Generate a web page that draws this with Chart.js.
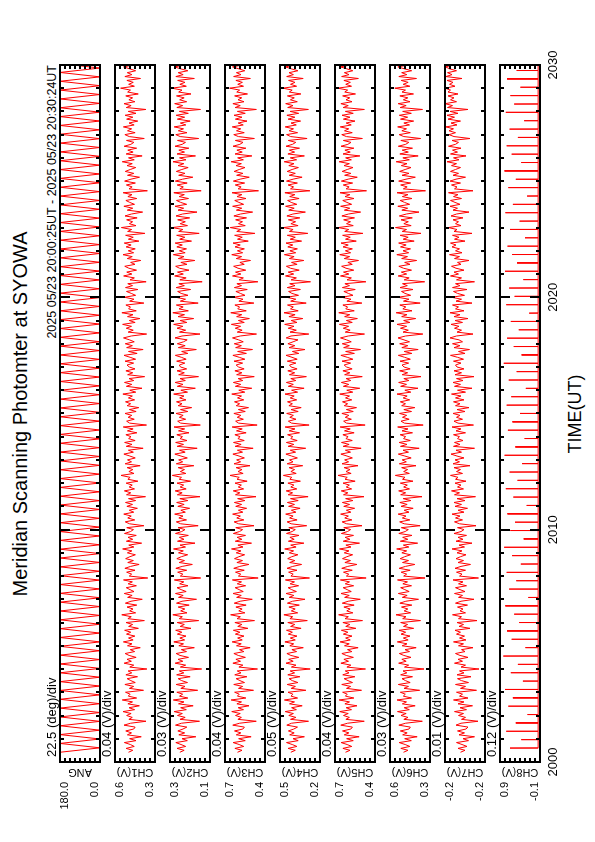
<!DOCTYPE html>
<html><head><meta charset="utf-8">
<script src="https://cdn.jsdelivr.net/npm/chart.js@4.4.1/dist/chart.umd.min.js"></script>
<style>
html,body{margin:0;padding:0;background:#fff;}
body{width:595px;height:842px;overflow:hidden;position:relative;}
#land{position:absolute;left:0;top:0;width:842px;height:595px;transform-origin:0 0;transform:translateY(842px) rotate(-90deg);font-family:"Liberation Sans",Arial,sans-serif;color:#000;}
#land canvas{position:absolute;left:0;}
.txt{position:absolute;white-space:nowrap;line-height:1;}
</style></head><body>
<div id="land">
<div class="txt" style="left:128px;width:600px;text-align:center;top:10px;font-size:20px;">Meridian Scanning Photomter at SYOWA</div>
<div class="txt" style="right:65px;top:46px;font-size:12.5px;">2025 05/23 20:00:25UT - 2025 05/23 20:30:24UT</div>
<div class="txt" style="left:128px;width:600px;text-align:center;top:566px;font-size:18px;">TIME(UT)</div>
</div>
<script>
// ---------- data ----------
const channelNames = ['ANG','CH1(V)','CH2(V)','CH3(V)','CH4(V)','CH5(V)','CH6(V)','CH7(V)','CH8(V)'];
const divLabels = ['22.5 (deg)/div','0.04 (V)/div','0.03 (V)/div','0.04 (V)/div','0.05 (V)/div','0.04 (V)/div','0.03 (V)/div','0.01 (V)/div','0.12 (V)/div'];
const divSize = [22.5,0.04,0.03,0.04,0.05,0.04,0.03,0.01,0.12];
const axisMin = [0,0.3,0.1,0.4,0.2,0.4,0.3,-0.2,-0.1];
const axisMax = [180,0.62,0.34,0.72,0.6,0.72,0.54,-0.12,0.86];
const axisTopLabels = ['180.0','0.6','0.3','0.7','0.5','0.7','0.6','-0.2','0.9'];
const axisBottomLabels = ['0.0','0.3','0.1','0.4','0.2','0.4','0.3','-0.2','-0.1'];
const xTickValues = [0,10,20,30];
const xTickLabels = ['2000','2010','2020','2030'];
const minuteTicks = [1,2,3,4,5,6,7,8,9,10,11,12,13,14,15,16,17,18,19,20,21,22,23,24,25,26,27,28,29];
const majorMinutes = [10,20];

// sampling (minutes after 20:00)
const dataStartMin = 0.42, angHalfSweepMin = 0.19, ch8SpikeSpacingMin = 0.36, sampleStepSec = 5;

// scan angle turning points (deg)
const angTurns = [180,0,180,0,180,0,180,0,180,0,180,0,180,0,180,0,180,0,180,0,180,0,180,0,180,0,180,0,180,0,180,0,180,0,180,0,180,0,180,0,
180,0,180,0,180,0,180,0,180,0,180,0,180,0,180,0,180,0,180,0,180,0,180,0,180,0,180,0,180,0,180,0,180,0,180,0,180,0,180,0,
180,0,180,0,180,0,180,0,180,0,180,0,180,0,180,0,180,0,180,0,180,0,180,0,180,0,180,0,180,0,180,0,180,0,180,0,180,0,180,0,
180,0,180,0,180,0,180,0,180,0,180,0,180,0,180,0,180,0,180,0,180,0,180,0,180,0,180,0,180,0,180,0,180,0,180,0,180,0,180,0];

// channel signals, millivolts, one value every 5 s
const ch1mV = [512,478,531,466,497,545,452,503,410,521,488,534,470,459,548,495,372,509,482,527,
491,556,463,508,425,517,480,562,447,514,499,536,392,505,471,541,458,493,523,440,
533,486,515,365,502,470,547,489,524,451,507,539,463,498,418,520,484,553,475,512,
461,528,494,543,433,511,479,532,385,517,490,566,455,503,476,524,446,537,492,402,
519,483,546,468,500,530,449,515,481,552,358,506,487,527,460,541,495,427,518,473,
535,501,457,521,485,559,469,510,407,529,478,516,450,544,496,472,526,389,504,538,
462,518,490,550,470,506,441,525,480,536,455,512,376,528,494,545,464,507,482,531,
437,517,499,572,468,509,477,523,419,539,488,520,458,501,549,473,513,395,530,484,
543,459,511,492,533,445,521,475,554,368,503,527,466,515,486,540,451,505,430,523,
495,536,463,513,481,557,454,502,404,529,486,544,470,508,383,519,478,533,460,506,
524,471,540,455,499,548,443,512,395,527,481,538,466,504,552,490,367,515,474,530,
488,559,459,506,421,520,476,565,450,511,496,533,389,503,468,544,455,490,528,437,
536,480,518,371,500,465,551,485,526,448,509,542,460,495,414,522,482,556,471,514,
458,531,491,546,429,513,474,535,381,519,487,569,452,505,479,527,443,540,489,399,
522,478,549,464,502,533,446,517,484,555,361,508,483,529,457,543,492,424,520,470,
538,498,454,524,482,562,466,512,403,531,475,518,447,547,493,469,528,386,506,541,
459,520,487,553,467,508,438,527,477,539,452,514,373,530,491,548,461,509,479,534,
434,519,496,575,465,511,474,525,416,541,485,522,455,503,551,470,515,392,532,481];

const ch2mV = [281,255,298,246,274,305,236,268,185,287,252,293,262,239,307,271,163,280,249,295,
266,315,242,276,201,289,256,320,233,283,264,299,174,275,250,303,235,270,291,219,
300,257,284,150,278,246,309,263,292,229,280,303,241,272,194,287,259,317,252,281,
244,296,269,306,214,279,254,297,168,285,266,323,238,276,251,291,225,301,268,181,
289,261,307,243,273,298,232,282,257,314,156,278,263,294,240,305,267,206,285,253,
299,272,234,289,260,319,247,280,190,295,256,284,230,307,270,250,292,171,276,302,
241,287,262,312,248,275,222,293,255,300,233,281,160,296,267,309,243,279,258,298,
217,285,271,326,245,278,253,291,197,302,264,288,236,274,311,249,283,177,297,259,
306,238,280,265,299,226,289,252,316,158,276,294,246,284,261,304,233,277,210,291,
268,301,244,282,256,318,235,275,188,296,262,309,248,280,169,288,254,298,240,277,
284,251,300,243,272,308,233,270,182,290,249,296,259,237,310,268,160,283,246,298,
263,318,239,279,198,292,253,323,230,286,261,302,171,278,247,306,232,273,294,216,
303,254,287,147,281,243,312,260,295,226,283,306,238,275,191,290,256,320,249,284,
241,299,266,309,211,282,251,300,165,288,263,326,235,279,248,294,222,304,265,178,
292,258,310,240,276,301,229,285,254,317,153,281,260,297,237,308,264,203,288,250,
302,269,231,292,257,322,244,283,187,298,253,287,227,310,267,247,295,168,279,305,
238,290,259,315,245,278,219,296,252,303,230,284,157,299,264,312,240,282,255,301,
214,288,268,329,242,281,250,294,194,305,261,291,233,277,314,246,286,174,300,256];

const ch3mV = [620,584,641,570,607,655,558,611,511,630,593,644,577,565,658,603,470,617,589,636,
598,666,572,615,528,625,588,671,553,621,606,643,492,612,579,650,564,600,631,545,
642,592,622,460,609,577,657,596,633,557,614,649,569,604,519,628,590,663,582,619,
568,637,601,653,537,618,585,641,484,624,597,675,561,610,583,633,551,646,599,502,
627,590,656,574,607,639,555,622,588,661,455,613,594,636,566,650,602,529,625,580,
644,609,563,630,592,668,576,617,508,638,585,623,556,653,604,579,634,488,611,647,
569,626,597,659,577,613,547,634,587,645,561,619,472,636,601,654,571,614,589,640,
543,624,606,680,575,616,584,631,520,648,595,627,565,608,657,580,621,495,639,591,
652,566,617,599,641,551,628,582,663,463,611,635,573,622,593,649,558,613,532,630,
603,644,570,620,588,666,562,610,506,637,594,653,578,615,486,627,585,641,567,612,
631,579,648,561,606,657,549,619,500,635,589,646,574,611,660,598,468,622,583,638,
595,669,566,613,525,627,586,674,550,618,603,641,489,609,576,652,560,597,633,542,
645,588,625,457,608,573,660,593,636,554,616,651,566,601,516,630,587,666,579,621,
565,640,598,656,534,620,582,643,481,626,594,678,558,612,580,635,548,649,596,499,
629,586,659,571,609,642,552,624,585,664,452,615,591,638,563,653,599,526,627,577,
647,606,560,632,589,671,573,619,505,640,582,625,553,656,601,576,637,485,613,650,
566,628,594,662,574,615,544,637,584,648,558,621,469,639,598,657,568,616,586,643,
540,626,603,683,572,618,581,633,517,651,592,629,562,610,660,577,623,492,642,588];

const ch4mV = [492,447,519,431,478,535,418,470,356,503,458,516,462,425,532,485,315,495,441,512,
466,548,436,484,378,505,455,556,424,490,471,520,341,488,446,528,421,477,509,401,
522,454,498,298,486,440,540,468,513,412,491,531,434,481,367,502,463,551,447,497,
430,517,476,535,389,494,452,522,327,501,473,561,423,487,448,511,407,526,475,350,
508,462,539,436,484,519,414,499,455,546,305,491,468,514,430,530,473,384,503,451,
523,483,421,507,464,553,439,493,361,516,458,501,410,535,479,447,512,333,489,529,
429,504,469,543,441,486,399,514,455,526,418,495,319,518,474,538,432,492,461,521,
396,502,482,566,438,491,454,509,373,528,470,505,426,484,541,444,497,343,519,462,
536,428,493,472,524,405,508,450,549,309,485,516,440,502,466,533,418,490,388,511,
476,525,433,498,458,550,424,484,359,517,467,536,442,492,336,506,453,522,429,489,
505,441,527,428,480,540,412,476,350,510,452,521,469,420,538,490,312,500,437,518,
460,553,430,488,372,511,449,560,418,495,467,525,338,493,442,533,415,481,514,396,
527,450,503,295,489,436,545,463,518,408,495,536,429,485,362,507,459,556,443,501,
426,522,472,540,384,498,447,527,322,506,469,565,419,491,444,516,402,531,471,346,
513,458,544,432,488,524,409,503,451,551,301,495,464,519,426,535,469,379,508,447,
528,479,416,512,460,558,434,497,356,521,454,506,405,540,475,442,517,329,493,534,
424,509,465,548,437,490,394,519,451,531,413,499,316,523,470,543,427,496,457,526,
391,507,478,570,434,495,450,514,368,533,466,510,421,488,546,439,502,339,524,458];

const ch5mV = [636,600,657,586,623,671,574,627,527,646,609,660,593,581,674,619,486,633,605,652,
614,682,588,631,544,641,604,687,569,637,622,659,508,628,595,666,580,616,647,561,
658,608,638,476,625,593,673,612,649,573,630,665,585,620,535,644,606,679,598,635,
584,653,617,669,553,634,601,657,500,640,613,691,577,626,599,649,567,662,615,518,
643,606,672,590,623,655,571,638,604,677,471,629,610,652,582,666,618,545,641,596,
660,625,579,646,608,684,592,633,524,654,601,639,572,669,620,595,650,504,627,663,
585,642,613,675,593,629,563,650,603,661,577,635,488,652,617,670,587,630,605,656,
559,640,622,696,591,632,600,647,536,664,611,643,581,624,673,596,637,511,655,607,
668,582,633,615,657,567,644,598,679,479,627,651,589,638,609,665,574,629,548,646,
619,660,586,636,604,682,578,626,522,653,610,669,594,631,502,643,601,657,583,628,
647,595,664,577,622,673,565,635,516,651,605,662,590,627,676,614,484,638,599,654,
611,685,582,629,541,643,602,690,566,634,619,657,505,625,592,668,576,613,649,558,
661,604,641,473,624,589,676,609,652,570,632,667,582,617,532,646,603,682,595,637,
581,656,614,672,550,636,598,659,497,642,610,694,574,628,596,651,564,665,612,515,
645,602,675,587,625,658,568,640,601,680,468,631,607,654,579,669,615,542,643,593,
663,622,576,648,605,687,589,635,521,656,598,641,569,672,617,592,653,501,629,666,
582,644,610,678,590,631,560,653,600,664,574,637,485,655,614,673,584,632,602,659,
556,642,619,699,588,634,597,649,533,667,608,645,578,626,676,593,639,508,658,604];

const ch6mV = [459,432,475,421,449,485,412,452,377,464,437,478,426,418,487,446,346,457,432,474,
443,495,424,455,389,466,441,498,411,460,448,478,362,456,429,490,419,447,468,405,
476,439,462,336,453,428,488,443,469,414,457,484,423,450,383,467,438,496,431,460,
420,474,446,485,398,459,434,476,357,464,444,504,416,455,433,471,409,481,445,369,
466,437,490,425,451,476,411,463,435,495,330,458,440,473,419,485,447,391,465,429,
479,452,417,469,440,500,427,460,374,478,433,464,408,487,449,430,472,359,455,482,
421,466,444,491,426,455,401,474,437,481,415,461,348,476,446,488,423,458,436,478,
402,465,450,508,424,458,434,470,384,484,442,467,413,451,490,429,462,365,477,438,
485,418,459,446,479,405,468,432,494,341,454,474,425,465,440,483,411,457,391,470,
447,478,422,461,437,498,415,451,372,476,441,488,427,457,354,467,434,482,419,456,
468,428,480,418,452,490,409,455,371,469,433,482,423,456,492,446,343,462,430,477,
440,498,421,458,386,470,438,503,408,463,445,481,359,459,426,493,416,450,471,402,
480,436,465,332,455,425,491,440,472,411,459,487,420,452,380,470,435,499,428,462,
417,477,443,488,395,461,431,479,354,467,441,507,413,457,430,474,406,484,442,366,
469,434,493,422,453,479,408,466,432,498,327,460,437,476,416,488,444,388,468,426,
482,449,414,472,438,503,424,463,371,481,430,467,405,490,446,427,475,356,457,485,
418,469,441,494,423,457,398,477,434,484,412,464,345,479,443,491,420,460,433,481,
399,468,447,511,421,461,431,473,381,487,439,470,410,454,493,426,465,362,480,435];

const ch7mV = [-151,-160,-146,-164,-154,-143,-167,-156,-179,-148,-159,-145,-162,-166,-142,-152,-186,-153,-161,-147,
-157,-139,-163,-150,-175,-146,-158,-137,-166,-149,-155,-143,-183,-151,-161,-141,-167,-153,-145,-172,
-144,-158,-149,-188,-152,-161,-139,-155,-146,-166,-150,-141,-160,-153,-176,-147,-157,-137,-162,-149,
-159,-143,-151,-140,-170,-148,-157,-144,-184,-147,-153,-135,-161,-150,-156,-145,-165,-141,-152,-178,
-147,-155,-139,-160,-150,-141,-163,-147,-156,-136,-187,-149,-154,-143,-161,-140,-152,-171,-146,-157,
-142,-151,-162,-144,-154,-134,-159,-148,-174,-142,-156,-146,-163,-138,-152,-158,-145,-182,-149,-139,
-155,-141,-150,-134,-158,-146,-165,-140,-153,-138,-160,-144,-181,-139,-149,-133,-157,-145,-152,-140,
-162,-141,-146,-131,-155,-143,-151,-138,-170,-136,-149,-140,-158,-144,-132,-153,-142,-179,-137,-150,
-139,-156,-145,-149,-137,-161,-142,-152,-134,-177,-146,-138,-155,-143,-150,-136,-160,-144,-168,-141,
-150,-137,-158,-141,-152,-133,-161,-145,-174,-139,-151,-136,-156,-143,-178,-140,-153,-138,-158,-144,
-141,-152,-137,-157,-145,-131,-160,-147,-169,-138,-150,-135,-155,-148,-130,-143,-176,-144,-153,-139,
-148,-132,-155,-140,-166,-138,-150,-130,-158,-141,-147,-135,-174,-142,-153,-133,-159,-145,-137,-164,
-135,-150,-141,-179,-143,-153,-131,-147,-138,-158,-142,-133,-152,-145,-168,-139,-149,-129,-154,-141,
-149,-134,-142,-131,-160,-139,-148,-135,-174,-138,-144,-127,-152,-141,-147,-136,-156,-132,-143,-168,
-136,-145,-130,-150,-140,-131,-153,-137,-146,-127,-176,-139,-144,-133,-151,-130,-142,-161,-136,-147,
-131,-141,-151,-133,-143,-124,-148,-137,-162,-131,-145,-135,-152,-127,-141,-147,-134,-170,-138,-128,
-141,-128,-137,-122,-144,-132,-151,-126,-139,-124,-146,-130,-166,-125,-135,-120,-143,-131,-138,-126,
-146,-126,-131,-120,-140,-129,-136,-124,-154,-122,-134,-125,-143,-129,-121,-138,-127,-163,-123,-135];

// CH8: baseline (V) and spike peaks (V), one spike per scan
const ch8Baseline = -0.055;
const ch8Peaks = [0.62,0.35,0.71,0.48,0.20,0.66,0.55,0.74,0.31,0.60,0.43,0.78,0.25,0.58,0.69,0.40,0.52,0.73,0.18,0.64,
0.47,0.70,0.36,0.57,0.76,0.29,0.61,0.50,0.68,0.22,0.54,0.72,0.44,0.63,0.33,0.75,0.49,0.27,0.67,0.56,
0.38,0.70,0.59,0.24,0.65,0.46,0.77,0.34,0.53,0.69,0.41,0.60,0.16,0.71,0.51,0.64,0.30,0.74,0.45,0.57,
0.68,0.26,0.62,0.39,0.73,0.55,0.21,0.66,0.48,0.75,0.35,0.58,0.70,0.43,0.63,0.28,0.72,0.52,0.61,0.37,
0.69,0.46,0.59];

// ---------- build ----------
const noiseSeriesmV = [ch1mV,ch2mV,ch3mV,ch4mV,ch5mV,ch6mV,ch7mV];
function sampled(vals){ return vals.map((v,i)=>({x: dataStartMin + i*sampleStepSec/60, y: v/1000})); }
const angPts = angTurns.map((v,k)=>({x: dataStartMin + k*angHalfSweepMin, y: v}));
const ch8Pts = [];
ch8Peaks.forEach((p,k)=>{
  const t = dataStartMin + k*ch8SpikeSpacingMin + ch8SpikeSpacingMin/2;
  ch8Pts.push({x:t-0.006,y:ch8Baseline},{x:t,y:p},{x:t+0.006,y:ch8Baseline});
});
const seriesPts = [angPts, ...noiseSeriesmV.map(sampled), ch8Pts];

const FONT = '"Liberation Sans", Arial, sans-serif';
const panelDecor = {
  id:'panelDecor',
  afterDatasetsDraw(chart, args, opts){
    const i = opts.index;
    const {ctx, chartArea:a} = chart;
    const x = chart.scales.x, y = chart.scales.y;
    ctx.save();
    ctx.strokeStyle = '#000'; ctx.lineWidth = 2; ctx.lineCap='butt';
    const seg=(x1,y1,x2,y2)=>{ctx.beginPath();ctx.moveTo(x1,y1);ctx.lineTo(x2,y2);ctx.stroke();};
    minuteTicks.forEach(m=>{
      const px = Math.round(x.getPixelForValue(m));
      const len = majorMinutes.includes(m) ? 10 : 4;
      seg(px,a.top,px,a.top+len); seg(px,a.bottom,px,a.bottom-len);
    });
    for(let k=1;k<8;k++){
      const py = Math.round(y.getPixelForValue(axisMin[i]+k*divSize[i]));
      seg(a.left,py,a.left+4,py); seg(a.right,py,a.right-4,py);
    }
    ctx.strokeRect(a.left,a.top,a.right-a.left,a.bottom-a.top);
    ctx.fillStyle='#000';
    ctx.font = '13px '+FONT; ctx.textAlign='left'; ctx.textBaseline='middle';
    ctx.fillText(divLabels[i], a.left+5, a.top-8);
    ctx.font = '11px '+FONT;
    ctx.textAlign='right';
    ctx.fillText(axisTopLabels[i], a.left-20, y.getPixelForValue(axisMax[i])+5);
    ctx.fillText(axisBottomLabels[i], a.left-20, y.getPixelForValue(axisMin[i])-5);
    ctx.save();
    ctx.translate(a.left-10,(a.top+a.bottom)/2); ctx.rotate(-Math.PI/2);
    ctx.textAlign='center'; ctx.fillText(channelNames[i],0,0);
    ctx.restore();
    if(opts.xlabels){
      ctx.font='13px '+FONT; ctx.textAlign='center'; ctx.textBaseline='middle';
      xTickValues.forEach((v,j)=>ctx.fillText(xTickLabels[j], x.getPixelForValue(v), a.bottom+13));
    }
    ctx.restore();
  }
};

const land = document.getElementById('land');
for(let i=0;i<9;i++){
  const top = 60 + 55*i;
  const last = i===8;
  const padTop=18, padBot = last?44:16;
  const cv = document.createElement('canvas');
  cv.width=842; cv.height=padTop+40+padBot;
  cv.style.top=(top-padTop)+'px'; cv.style.width='842px'; cv.style.height=cv.height+'px';
  land.appendChild(cv);
  new Chart(cv,{
    type:'line',
    data:{datasets:[{data:seriesPts[i],borderColor:'#ff0000',borderWidth:1,pointRadius:0,tension:0,fill:false}]},
    options:{
      responsive:false, animation:false, devicePixelRatio:1,
      layout:{padding:{left:80,right:65,top:padTop,bottom:padBot}},
      scales:{
        x:{type:'linear',min:0,max:30,display:false},
        y:{type:'linear',min:axisMin[i],max:axisMax[i],display:false}
      },
      plugins:{legend:{display:false},tooltip:{enabled:false},panelDecor:{index:i,xlabels:last}},
      events:[]
    },
    plugins:[panelDecor]
  });
}
</script>
</body></html>
